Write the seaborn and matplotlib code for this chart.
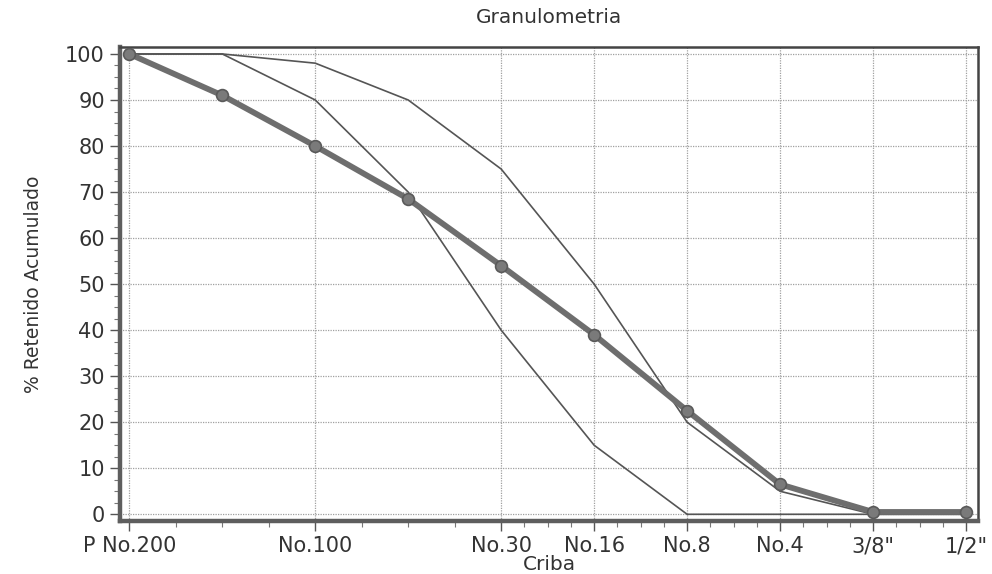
import numpy as np
import pandas as pd
import matplotlib
matplotlib.use("Agg")
import matplotlib.pyplot as plt
import seaborn as sns
from matplotlib.ticker import FixedLocator, MultipleLocator

# ---- data ----
sieves = ["P No.200", "No.200", "No.100", "No.50", "No.30", "No.16", "No.8", "No.4", "3/8\"", "1/2\""]
shown_labels = ["P No.200", "No.100", "No.30", "No.16", "No.8", "No.4", "3/8\"", "1/2\""]
muestra = [100, 91, 80, 68.5, 54, 39, 22.5, 6.5, 0.5, 0.5]
limite_superior = [100, 100, 98, 90, 75, 50, 20, 5, 0, 0]
limite_inferior = [100, 100, 90, 70, 40, 15, 0, 0, 0, 0]
y_ticks = [0, 10, 20, 30, 40, 50, 60, 70, 80, 90, 100]

sns.set_style("white")
plt.rcParams["font.family"] = ["DejaVu Sans"]

pos = list(range(len(sieves)))
df = pd.DataFrame({
    "pos": pos * 3,
    "val": muestra + limite_superior + limite_inferior,
    "serie": ["muestra"] * len(sieves) + ["sup"] * len(sieves) + ["inf"] * len(sieves),
})

fig = plt.figure(figsize=(9.92, 5.74), dpi=100)
ax = fig.add_axes([0.121, 0.092, 0.865, 0.826])

grid_kw = dict(color="#a0a0a0", linestyle=(0, (1, 1)), linewidth=0.9, zorder=0)

sns.lineplot(data=df[df.serie == "sup"], x="pos", y="val", ax=ax, color="#555555",
             linewidth=1.2, zorder=3, legend=False)
sns.lineplot(data=df[df.serie == "inf"], x="pos", y="val", ax=ax, color="#555555",
             linewidth=1.2, zorder=3, legend=False)
sns.lineplot(data=df[df.serie == "muestra"], x="pos", y="val", ax=ax, color="#6e6e6e",
             linewidth=4.2, marker="o", markersize=8.5, markerfacecolor="#7a7a7a",
             markeredgecolor="#5a5a5a", markeredgewidth=1.2, zorder=4, legend=False)

label_pos = [sieves.index(s) for s in shown_labels]
ax.set_xlim(-0.1, 9.13)
ax.set_ylim(-1.5, 101.5)
ax.xaxis.set_major_locator(FixedLocator(label_pos))
ax.set_xticklabels(shown_labels)
minor = []
for a, b in zip(label_pos[:-1], label_pos[1:]):
    for k in (1, 2, 3):
        minor.append(a + (b - a) * k / 4)
ax.xaxis.set_minor_locator(FixedLocator(minor))
ax.set_yticks(y_ticks)
ax.yaxis.set_minor_locator(MultipleLocator(2.5))

for p in label_pos:
    ax.axvline(p, **grid_kw)
for t in y_ticks:
    ax.axhline(t, **grid_kw)

ax.tick_params(axis="both", which="major", direction="out", length=7, width=1,
               color="#555555", labelsize=15, labelcolor="#333333", pad=4,
               bottom=True, left=True)
ax.tick_params(axis="both", which="minor", direction="out", length=4, width=0.8,
               color="#777777", bottom=True, left=True)

for side in ("left", "bottom"):
    ax.spines[side].set_linewidth(3.2)
    ax.spines[side].set_color("#5e5e5e")
for side in ("top", "right"):
    ax.spines[side].set_linewidth(1.8)
    ax.spines[side].set_color("#444444")
    ax.spines[side].set_visible(True)

ax.set_title("Granulometria", fontsize=14.5, color="#333333", pad=17)
ax.set_xlabel("Criba", fontsize=14.5, color="#333333", labelpad=-1)
ax.set_ylabel("% Retenido Acumulado", fontsize=13.5, color="#333333", labelpad=16)

fig.savefig("out.png", dpi=100, facecolor="white")
